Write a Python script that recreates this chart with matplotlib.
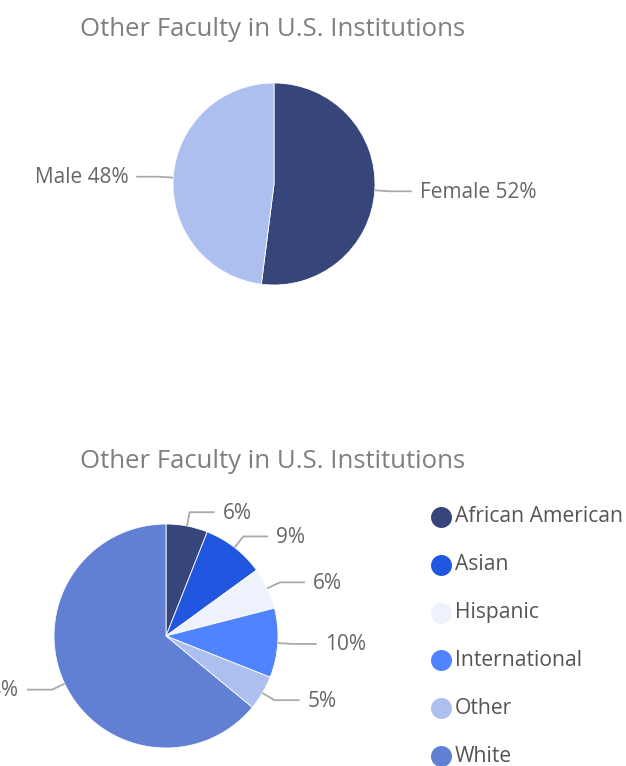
import numpy as np
import matplotlib.pyplot as plt

W, H = 626, 766

title = "Other Faculty in U.S. Institutions"

gender_labels = ["Female", "Male"]
gender_values = [52, 48]
gender_colors = ["#36467a", "#adbfee"]

race_labels = ["African American", "Asian", "Hispanic", "International", "Other", "White"]
race_values = [6, 9, 6, 10, 5, 64]
race_colors = ["#36467a", "#2156e0", "#eef2fd", "#5083ff", "#adbfee", "#6180d3"]

plt.rcParams["font.family"] = ["Open Sans", "DejaVu Sans"]

fig = plt.figure(figsize=(W / 100, H / 100), dpi=100)
ax = fig.add_axes([0, 0, 1, 1])


def y(px):
    # pixel rows count downward from the top
    return H - px


def leader_labels(values, texts, cx, cy, r, seg1=14, seg2=25, gap=7, size=10.5):
    total = float(sum(values))
    start = 90.0
    for v, t in zip(values, texts):
        mid = np.deg2rad(start - 360.0 * v / total / 2)
        start -= 360.0 * v / total
        c, s = np.cos(mid), np.sin(mid)
        x0, y0 = cx + r * c, cy + r * s
        x1, y1 = cx + (r + seg1) * c, cy + (r + seg1) * s
        side = 1 if c >= 0 else -1
        x2 = x1 + side * seg2
        ax.plot([x0, x1, x2], [y0, y1, y1], color="#aaaaaa", lw=1.3,
                solid_capstyle="butt", zorder=1)
        ax.text(x2 + side * gap, y1 - 1, t, ha="left" if side > 0 else "right",
                va="center", fontsize=size, color="#666666")


# gender pie
cx1, cy1, r1 = 274, y(184), 101
ax.pie(gender_values, colors=gender_colors, startangle=90, counterclock=False,
       center=(cx1, cy1), radius=r1, wedgeprops=dict(linewidth=0.6, edgecolor="white"),
       frame=True)
leader_labels(gender_values, [f"{l} {v}%" for l, v in zip(gender_labels, gender_values)],
              cx1, cy1, r1, seg1=15, seg2=22, gap=8, size=15)
ax.text(273, y(29), title, ha="center", va="center", fontsize=18.5, color="#7f7f7f")

# race / ethnicity pie
cx2, cy2, r2 = 166, y(636), 112
ax.pie(race_values, colors=race_colors, startangle=90, counterclock=False,
       center=(cx2, cy2), radius=r2, wedgeprops=dict(linewidth=0.6, edgecolor="white"),
       frame=True)
leader_labels(race_values, [f"{v}%" for v in race_values], cx2, cy2, r2,
              seg1=14, seg2=25, gap=8, size=15)
ax.text(273, y(462), title, ha="center", va="center", fontsize=18.5, color="#7f7f7f")

# legend
for i, (lab, col) in enumerate(zip(race_labels, race_colors)):
    ly = y(517 + 47.8 * i)
    ax.scatter([441], [ly], s=228, color=col, zorder=3, linewidths=0)
    ax.text(455, ly, lab, ha="left", va="center", fontsize=15.2, color="#555555")

ax.set_xlim(0, W)
ax.set_ylim(0, H)
ax.set_aspect("equal")
ax.axis("off")

fig.savefig("out.png", dpi=100)
